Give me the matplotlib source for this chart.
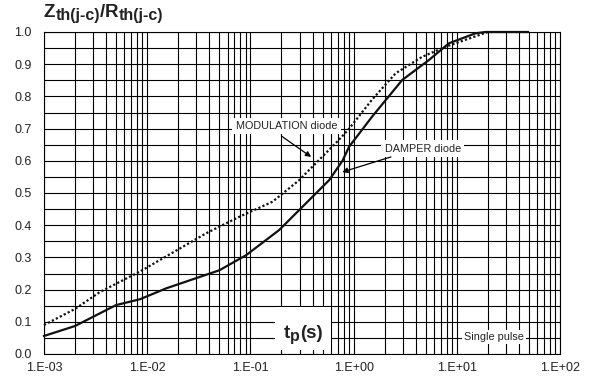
import matplotlib
matplotlib.use('Agg')
import matplotlib.pyplot as plt
from matplotlib.ticker import LogLocator, MultipleLocator, FixedLocator
from matplotlib.transforms import IdentityTransform
from matplotlib.patches import Rectangle

plt.rcParams['font.family'] = ['Liberation Sans', 'DejaVu Sans']

# pulse duration tp (s) and normalised Zth for both diodes
tp_damper = [1e-3, 2e-3, 5e-3, 8.5e-3, 1.53e-2, 5e-2, 9.1e-2, 0.19, 0.58, 0.78, 0.906,
             1.51, 2.96, 5.37, 8.4, 15.2, 19.0, 49.0]
z_damper = [0.056, 0.087, 0.152, 0.17, 0.204, 0.26, 0.307, 0.385, 0.54, 0.60, 0.644,
            0.737, 0.851, 0.913, 0.965, 0.996, 1.0, 1.0]

tp_modul = [1e-3, 2e-3, 3.5e-3, 8.5e-3, 3.73e-2, 7.8e-2, 0.164, 0.297, 0.72, 0.906,
            1.51, 2.56, 4.62, 7.77, 20.0]
z_modul = [0.09, 0.14, 0.193, 0.256, 0.375, 0.426, 0.473, 0.54, 0.665, 0.70,
           0.79, 0.872, 0.923, 0.954, 1.0]

xtick_vals = [1e-3, 1e-2, 1e-1, 1e0, 1e1, 1e2]
xtick_labels = ['1.E-03', '1.E-02', '1.E-01', '1.E+00', '1.E+01', '1.E+02']

fig = plt.figure(figsize=(5.9, 3.85), dpi=100)
ax = fig.add_axes([44/590, 31/385, 516/590, 322/385])

ax.plot(tp_damper, z_damper, color='#111111', lw=1.6, zorder=3, clip_on=False)
ax.plot(tp_modul, z_modul, color='#111111', lw=1.6, linestyle=(0, (1, 1)), zorder=3,
        clip_on=False)

ax.set_xscale('log')
ax.set_xlim(1e-3, 1e2)
ax.set_ylim(0, 1.0)
ax.xaxis.set_major_locator(FixedLocator(xtick_vals))
ax.set_xticklabels(xtick_labels)
ax.xaxis.set_minor_locator(LogLocator(base=10, subs=range(2, 10), numticks=20))
ax.xaxis.set_minor_formatter(plt.NullFormatter())
ax.yaxis.set_major_locator(MultipleLocator(0.1))
ax.yaxis.set_minor_locator(MultipleLocator(0.05))
ax.yaxis.set_major_formatter(plt.FormatStrFormatter('%.1f'))
ax.grid(True, which='both', color='black', lw=0.8)
ax.tick_params(which='both', length=0, labelsize=9, colors='#222222')
ax.tick_params(axis='x', pad=6)
ax.tick_params(axis='y', pad=9)
for s in ax.spines.values():
    s.set_color('black')
    s.set_linewidth(0.8)

renderer = fig.canvas.get_renderer()


def chain(x, y, parts, zorder=5):
    # draw text pieces one after another, in pixels (origin bottom-left)
    texts = []
    for s, size, dy in parts:
        t = fig.text(x, y + dy, s, fontsize=size, fontweight='bold', color='#222222',
                     transform=IdentityTransform(), va='baseline', ha='left', zorder=zorder)
        x = t.get_window_extent(renderer).x1
        texts.append(t)
    return texts


# title
chain(44, 368, [('Z', 13.5, 0), ('th(j-c)', 11.5, -3), ('/', 13.5, 0),
                ('R', 13.5, 0), ('th(j-c)', 11.5, -3)])

# tp(s) label with white box
tp_parts = chain(284, 47, [('t', 13.5, 0), ('p', 11.5, -3), ('(s)', 13.5, 0)])
bbs = [t.get_window_extent(renderer) for t in tp_parts]
x0 = min(b.x0 for b in bbs) - 9
x1 = max(b.x1 for b in bbs) + 8
fig.patches.append(Rectangle((x0, 35), x1 - x0, 43, transform=IdentityTransform(),
                             facecolor='white', edgecolor='none', zorder=4))

box = dict(facecolor='white', edgecolor='none', pad=2.5)
arrow = dict(arrowstyle='-|>', color='black', lw=0.9, shrinkA=0, shrinkB=0,
             mutation_scale=8)
ax.text(0.223, 0.708, 'MODULATION diode', fontsize=7.8, ha='center', va='center',
        bbox=box, color='#222222', zorder=5)
ax.annotate('', xy=(0.388, 0.612), xytext=(0.1995, 0.677), arrowprops=arrow, zorder=5)
ax.text(4.69, 0.637, 'DAMPER diode', fontsize=7.8, ha='center', va='center',
        bbox=box, color='#222222', zorder=5)
ax.annotate('', xy=(0.774, 0.565), xytext=(2.30, 0.612), arrowprops=arrow, zorder=5)

ax.text(22.8, 0.053, 'Single pulse', fontsize=7.8, ha='center', va='center',
        color='#222222', bbox=dict(facecolor='white', edgecolor='none', pad=1.5), zorder=5)

fig.savefig('out.png', dpi=100)
